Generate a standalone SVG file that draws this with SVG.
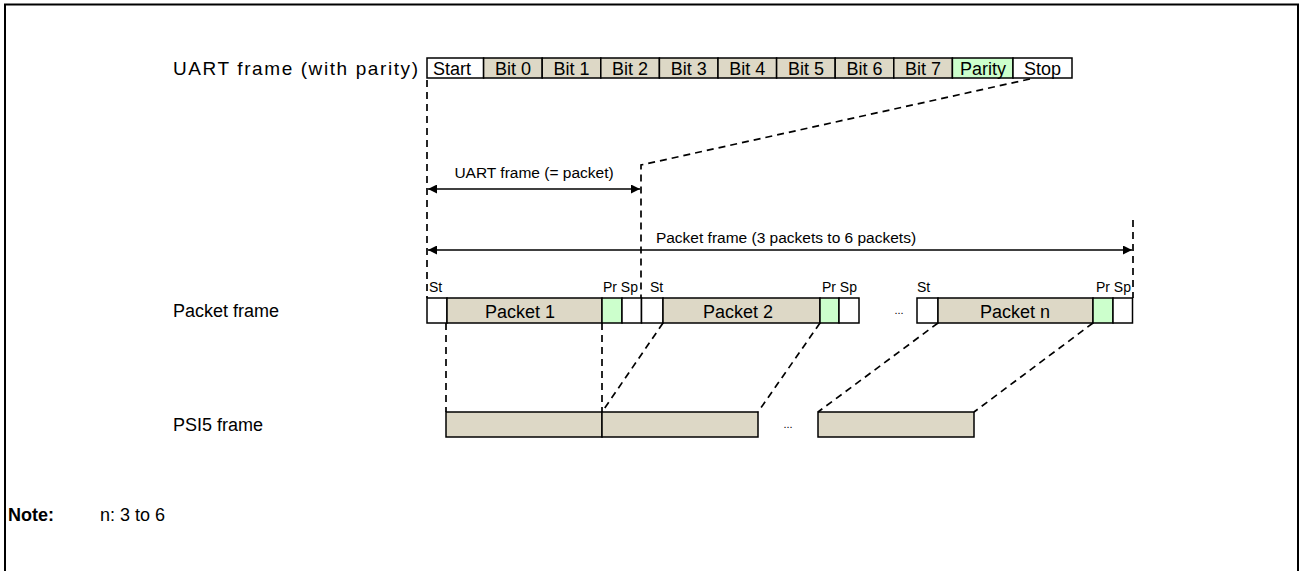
<svg xmlns="http://www.w3.org/2000/svg" width="1300" height="571" viewBox="0 0 1300 571">
<style>
text{font-family:"Liberation Sans",Arial,sans-serif;fill:#000}
.lbl{font-size:18px}
.cell{font-size:18px;text-anchor:middle}
.small{font-size:14px}
.mid{font-size:15.5px;text-anchor:middle}
.tan{fill:#DDD8C6;stroke:#000;stroke-width:1.5}
.grn{fill:#CCFFCC;stroke:#000;stroke-width:1.5}
.wht{fill:#fff;stroke:#000;stroke-width:1.5}
.dash{fill:none;stroke:#000;stroke-width:1.7;stroke-dasharray:7 5}
.arr{fill:none;stroke:#000;stroke-width:1.7;marker-start:url(#ah);marker-end:url(#ah)}
.dots{font-size:11px;text-anchor:middle}
</style>
<defs>
<marker id="ah" viewBox="0 0 10 10" refX="10" refY="5" markerWidth="11" markerHeight="9" markerUnits="userSpaceOnUse" orient="auto-start-reverse">
<path d="M0,0 L10,5 L0,10 z" fill="#000"/>
</marker>
</defs>
<rect x="5" y="4.5" width="1293" height="580" fill="none" stroke="#000" stroke-width="2"/>

<g id="labels">
<text class="lbl" x="173" y="75" font-size="19" textLength="245" lengthAdjust="spacing" style="font-size:19px">UART frame (with parity)</text>
<text class="lbl" x="173" y="317">Packet frame</text>
<text class="lbl" x="173" y="431">PSI5 frame</text>
<text class="lbl" x="8" y="521" font-weight="bold">Note:</text>
<text class="lbl" x="100" y="521">n: 3 to 6</text>
</g>

<g id="uart-frame">
<rect class="wht" x="427" y="58" width="56.6" height="20"/>
<rect class="tan" x="483.6" y="58" width="58.6" height="20"/>
<rect class="tan" x="542.2" y="58" width="58.6" height="20"/>
<rect class="tan" x="600.8" y="58" width="58.6" height="20"/>
<rect class="tan" x="659.4" y="58" width="58.6" height="20"/>
<rect class="tan" x="718" y="58" width="58.6" height="20"/>
<rect class="tan" x="776.6" y="58" width="58.6" height="20"/>
<rect class="tan" x="835.2" y="58" width="58.6" height="20"/>
<rect class="tan" x="893.8" y="58" width="58.6" height="20"/>
<rect class="grn" x="952.4" y="58" width="60.6" height="20"/>
<rect class="wht" x="1013" y="58" width="59" height="20"/>
<text class="cell" x="452" y="75">Start</text>
<text class="cell" x="513" y="75">Bit 0</text>
<text class="cell" x="571.5" y="75">Bit 1</text>
<text class="cell" x="630" y="75">Bit 2</text>
<text class="cell" x="688.7" y="75">Bit 3</text>
<text class="cell" x="747.3" y="75">Bit 4</text>
<text class="cell" x="806" y="75">Bit 5</text>
<text class="cell" x="864.5" y="75">Bit 6</text>
<text class="cell" x="923" y="75">Bit 7</text>
<text class="cell" x="983" y="75">Parity</text>
<text class="cell" x="1042.5" y="75">Stop</text>
</g>

<g id="packet-1">
<rect class="wht" x="427" y="298" width="20" height="25"/>
<rect class="tan" x="447" y="298" width="155" height="25"/>
<rect class="grn" x="602" y="298" width="20" height="25"/>
<rect class="wht" x="622" y="298" width="19.5" height="25"/>
<text class="cell" x="520" y="318">Packet 1</text>
<text class="small" x="429" y="292">St</text>
<text class="small" x="638" y="292" text-anchor="end">Pr Sp</text>
</g>

<g id="packet-2">
<rect class="wht" x="641.5" y="298" width="21.5" height="25"/>
<rect class="tan" x="663" y="298" width="157" height="25"/>
<rect class="grn" x="820" y="298" width="19" height="25"/>
<rect class="wht" x="839" y="298" width="20" height="25"/>
<text class="cell" x="738" y="318">Packet 2</text>
<text class="small" x="650" y="292">St</text>
<text class="small" x="857" y="292" text-anchor="end">Pr Sp</text>
</g>

<text class="dots" x="899" y="314">...</text>

<g id="packet-n">
<rect class="wht" x="917" y="298" width="21" height="25"/>
<rect class="tan" x="938" y="298" width="155" height="25"/>
<rect class="grn" x="1093" y="298" width="20" height="25"/>
<rect class="wht" x="1113" y="298" width="19.5" height="25"/>
<text class="cell" x="1015" y="318">Packet n</text>
<text class="small" x="917" y="292">St</text>
<text class="small" x="1131" y="292" text-anchor="end">Pr Sp</text>
</g>

<g id="psi5-frame">
<rect class="tan" x="446" y="412" width="156" height="25"/>
<rect class="tan" x="602" y="412" width="156" height="25"/>
<rect class="tan" x="818" y="412" width="156" height="25"/>
</g>
<text class="dots" x="788" y="428">...</text>

<g id="connectors">
<path class="dash" d="M427,80 V298"/>
<path class="dash" d="M1030,79 L641,165 V298"/>
<path class="dash" d="M1133,220 V298"/>
<path class="dash" d="M446,323 V412"/>
<path class="dash" d="M602,323 V412"/>
<path class="dash" d="M663,323 L602,412"/>
<path class="dash" d="M820,323 L758,412"/>
<path class="dash" d="M938,323 L818,412"/>
<path class="dash" d="M1093,323 L974,412"/>
<path class="arr" d="M428,189 H640"/>
<path class="arr" d="M428,250 H1132"/>
<text class="mid" x="534" y="178">UART frame (= packet)</text>
<text class="mid" x="786" y="243" font-size="16">Packet frame (3 packets to 6 packets)</text>
</g>
</svg>
